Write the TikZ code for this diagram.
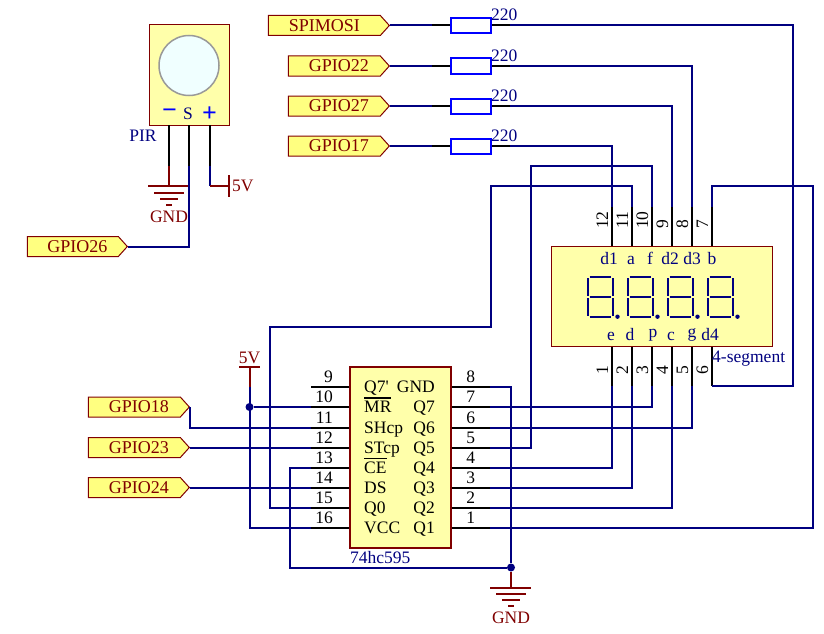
\documentclass[tikz,border=0pt]{standalone}
\usepackage{fontspec}
\setmainfont{Liberation Serif}
\usetikzlibrary{shapes.symbols}
\definecolor{wirenavy}{HTML}{000080}
\definecolor{powerred}{HTML}{800000}
\definecolor{partyellow}{HTML}{FFFFAA}
\definecolor{portyellow}{HTML}{FFFF80}
\definecolor{resblue}{HTML}{0000FF}
\definecolor{lensgray}{HTML}{999999}
\definecolor{lensfill}{HTML}{F0FFFF}
\newcommand{\gp}[1]{\hspace*{9pt}#1}
\newcommand{\ovr}[1]{\vbox{\hrule height 1.4pt \kern 2.2pt\hbox{#1}}}
\tikzset{
  lbl/.style={font=\fontsize{17.5}{17.5}\selectfont, inner sep=0pt},
  wire/.style={draw=wirenavy, line width=2pt},
  pinline/.style={draw=black, line width=2pt},
  power/.style={draw=powerred, line width=2pt},
  part/.style={draw=powerred, fill=partyellow, line width=1pt},
  port/.style={shape=signal, signal to=east, signal pointer angle=96, draw=powerred, fill=portyellow,
    line width=1pt, minimum height=20, inner sep=0pt, text=powerred, font=\fontsize{18}{18}\selectfont, anchor=east},
  res/.style={draw=resblue, line width=2pt, minimum width=40, minimum height=15, inner sep=0pt},
  polar/.style={font=\fontsize{26}{26}\selectfont\bfseries, text=resblue, inner sep=0pt},
  junction/.style={circle, fill=wirenavy, inner sep=0pt, minimum size=8}
}
\begin{document}
\begin{tikzpicture}[x=1pt, y=-1pt]
  \useasboundingbox (0,0) rectangle (824,634);

  % ports
  \node (spimosi) [port, minimum width=121] at (390,25.5) {SPIMOSI};
  \node (gpioxxii) [port, minimum width=101] at (390,66) {\gp{GPIO22}};
  \node (gpioxxvii) [port, minimum width=101] at (390,106) {\gp{GPIO27}};
  \node (gpioxvii) [port, minimum width=101] at (390,146) {\gp{GPIO17}};
  \node (gpioxxvi) [port, minimum width=100] at (128,246.5) {\gp{GPIO26}};
  \node (gpioxviii) [port, minimum width=101] at (190,407) {\gp{GPIO18}};
  \node (gpioxxiii) [port, minimum width=101] at (190,447.5) {\gp{GPIO23}};
  \node (gpioxxiv) [port, minimum width=101] at (190,487.5) {\gp{GPIO24}};

  % resistors
  \foreach \rn/\src/\y in {rspi/spimosi/25.5, rxxii/gpioxxii/66, rxxvii/gpioxxvii/106, rxvii/gpioxvii/146} {
    \coordinate (\rn-in) at (432,\y);
    \coordinate (\rn-out) at (510,\y);
    \draw[wire] (\src.east) -- (\rn-in);
    \draw[pinline] (\rn-in) -- (\rn-out);
    \node (\rn) [res, fill=white] at (471,\y) {};
    \node (\rn-val) [lbl, text=wirenavy, anchor=base west] at (491,\y-5) {220};
  }

  % pir sensor
  \node (pir) [part, minimum width=79.5, minimum height=100, inner sep=0pt] at (189.25,75) {};
  \node (lens) [circle, draw=lensgray, fill=lensfill, line width=1.5pt, minimum size=60, inner sep=0pt] at (189,65.5) {};
  \node (minus) [polar] at (169.5,114) {−};
  \node (sig) [lbl, text=wirenavy] at (188,114) {S};
  \node (plus) [polar] at (209.5,114) {+};
  \node (pirname) [lbl, text=wirenavy, anchor=base] at (143,141) {PIR};
  \foreach \pn/\x in {pg/169, ps/189, pv/210} {
    \coordinate (\pn-top) at (\x,125);
    \coordinate (\pn-end) at (\x,165.5);
    \draw[pinline] (\pn-top) -- (\pn-end);
  }

  % display
  \node (disp) [part, minimum width=221, minimum height=100, inner sep=0pt] at (661.8,296.3) {};
  \foreach \num/\x in {12/612, 11/632, 10/652, 9/672, 8/692, 7/712} {
    \coordinate (up\num) at (\x,207);
    \draw[pinline] (up\num) -- (\x,246);
    \node (nup\num) [lbl, rotate=90, anchor=base west] at (\x-4,229) {\num};
  }
  \foreach \num/\x in {1/612, 2/632, 3/652, 4/672, 5/692, 6/712} {
    \coordinate (dn\num) at (\x,386);
    \draw[pinline] (\x,347) -- (dn\num);
    \node (ndn\num) [lbl, rotate=90, anchor=base west] at (\x-4,375) {\num};
  }
  \foreach \txt/\x in {d1/609, a/631, f/650, d2/670, d3/692, b/712}
    \node (lab\txt) [lbl, text=wirenavy, anchor=base] at (\x,264) {\txt};
  \foreach \txt/\x/\y in {e/611/340.5, d/630/340.5, p/653/337, c/671/340.5, g/692/337, d4/710/340.5}
    \node (lab\txt) [lbl, text=wirenavy, anchor=base] at (\x,\y) {\txt};
  \node (dispname) [lbl, text=wirenavy, anchor=base west] at (712,362.5) {4-segment};
  \foreach \x in {587.5, 627.5, 667.5, 707.5} {
    \draw[wire] (\x+2,276.7) -- (\x+23,276.7);
    \draw[wire] (\x+2,296.7) -- (\x+23,296.7);
    \draw[wire] (\x+2,316.7) -- (\x+23,316.7);
    \foreach \c in {0,25} {
      \draw[wire] (\x+\c,278) -- (\x+\c,295.5);
      \draw[wire] (\x+\c,298) -- (\x+\c,315.5);
    }
    \fill[wirenavy] (\x+30,316.7) circle (2.2);
  }

  % shift register
  \node (chip) [part, line width=2pt, minimum width=101, minimum height=181, inner sep=0pt] at (400.5,457.5) {};
  \foreach \num/\txt/\y in {9/Q7\textquotesingle/387, 10/\ovr{MR}/407, 11/SHcp/427.5, 12/STcp/447.5,
      13/\ovr{CE}/467.5, 14/DS/487.5, 15/Q0/507.5, 16/VCC/527.5} {
    \coordinate (l\num) at (311,\y);
    \draw[pinline] (l\num) -- (349,\y);
    \node (nl\num) [lbl, anchor=base east] at (333,\y-4.5) {\num};
    \node (tl\num) [lbl, anchor=base west] at (364,\y+5.5) {\txt};
  }
  \foreach \num/\txt/\y in {8/GND/387, 7/Q7/407, 6/Q6/427.5, 5/Q5/447.5,
      4/Q4/467.5, 3/Q3/487.5, 2/Q2/507.5, 1/Q1/527.5} {
    \coordinate (r\num) at (490,\y);
    \draw[pinline] (452,\y) -- (r\num);
    \node (nr\num) [lbl, anchor=base] at (470.7,\y-4.5) {\num};
    \node (tr\num) [lbl, anchor=base east] at (435,\y+5.5) {\txt};
  }
  \node (chipname) [lbl, text=wirenavy, anchor=base west] at (350,563.5) {74hc595};

  % power symbols
  \coordinate (gndtop) at (169,186);
  \draw[power] (pg-end) -- (gndtop);
  \draw[power] (148,186) -- (189,186) (154,193) -- (184,193) (160,199) -- (178,199) (166,204.5) -- (172,204.5);
  \node (gndpir) [lbl, text=powerred, anchor=base] at (169,222) {GND};
  \coordinate (vpir) at (229,186);
  \draw[wire] (pv-end) |- (210,186);
  \draw[power] (210,186) -- (vpir);
  \draw[power] (229,175) -- (229,197);
  \node (vpirname) [lbl, text=powerred, anchor=base west] at (232,191) {5V};

  \coordinate (vcc) at (249.5,367);
  \draw[power] (239,367) -- (260,367) (vcc) -- (249.5,387);
  \node (vccname) [lbl, text=powerred, anchor=base] at (249.5,363) {5V};

  \node (jgnd) [junction] at (511,567.5) {};
  \coordinate (gndbot) at (511,587.5);
  \draw[power] (jgnd) -- (gndbot);
  \draw[power] (490,587.5) -- (531,587.5) (496,594) -- (526,594) (502,600) -- (520,600) (508,605.5) -- (514,605.5);
  \node (gndchip) [lbl, text=powerred, anchor=base] at (511,623) {GND};

  % wires
  \draw[wire] (ps-end) |- (gpioxxvi.east);
  \draw[wire] (rspi-out) -- (793,25.5) |- (dn6);
  \draw[wire] (rxxii-out) -| (up8);
  \draw[wire] (rxxvii-out) -| (up9);
  \draw[wire] (rxvii-out) -| (up12);
  \draw[wire] (l15) -| (270,327) -| (491,186) -| (up11);
  \draw[wire] (r5) -| (531,166) -| (up10);
  \draw[wire] (r7) -| (dn3);
  \draw[wire] (r6) -| (dn5);
  \draw[wire] (r4) -| (dn1);
  \draw[wire] (r3) -| (dn2);
  \draw[wire] (r2) -| (dn4);
  \draw[wire] (r1) -| (813,186) -| (up7);
  \draw[wire] (gpioxviii.east) |- (l11);
  \draw[wire] (gpioxxiii.east) -- (l12);
  \draw[wire] (gpioxxiv.east) -- (l14);
  \draw[wire] (l13) -| (290,567.5) -- (jgnd);
  \draw[wire] (r8) -| (jgnd);
  \draw[wire] (249.5,387) |- (l16);
  \node (jvcc) [junction] at (249.5,407) {};
  \draw[wire] (jvcc) -- (l10);
\end{tikzpicture}
\end{document}
